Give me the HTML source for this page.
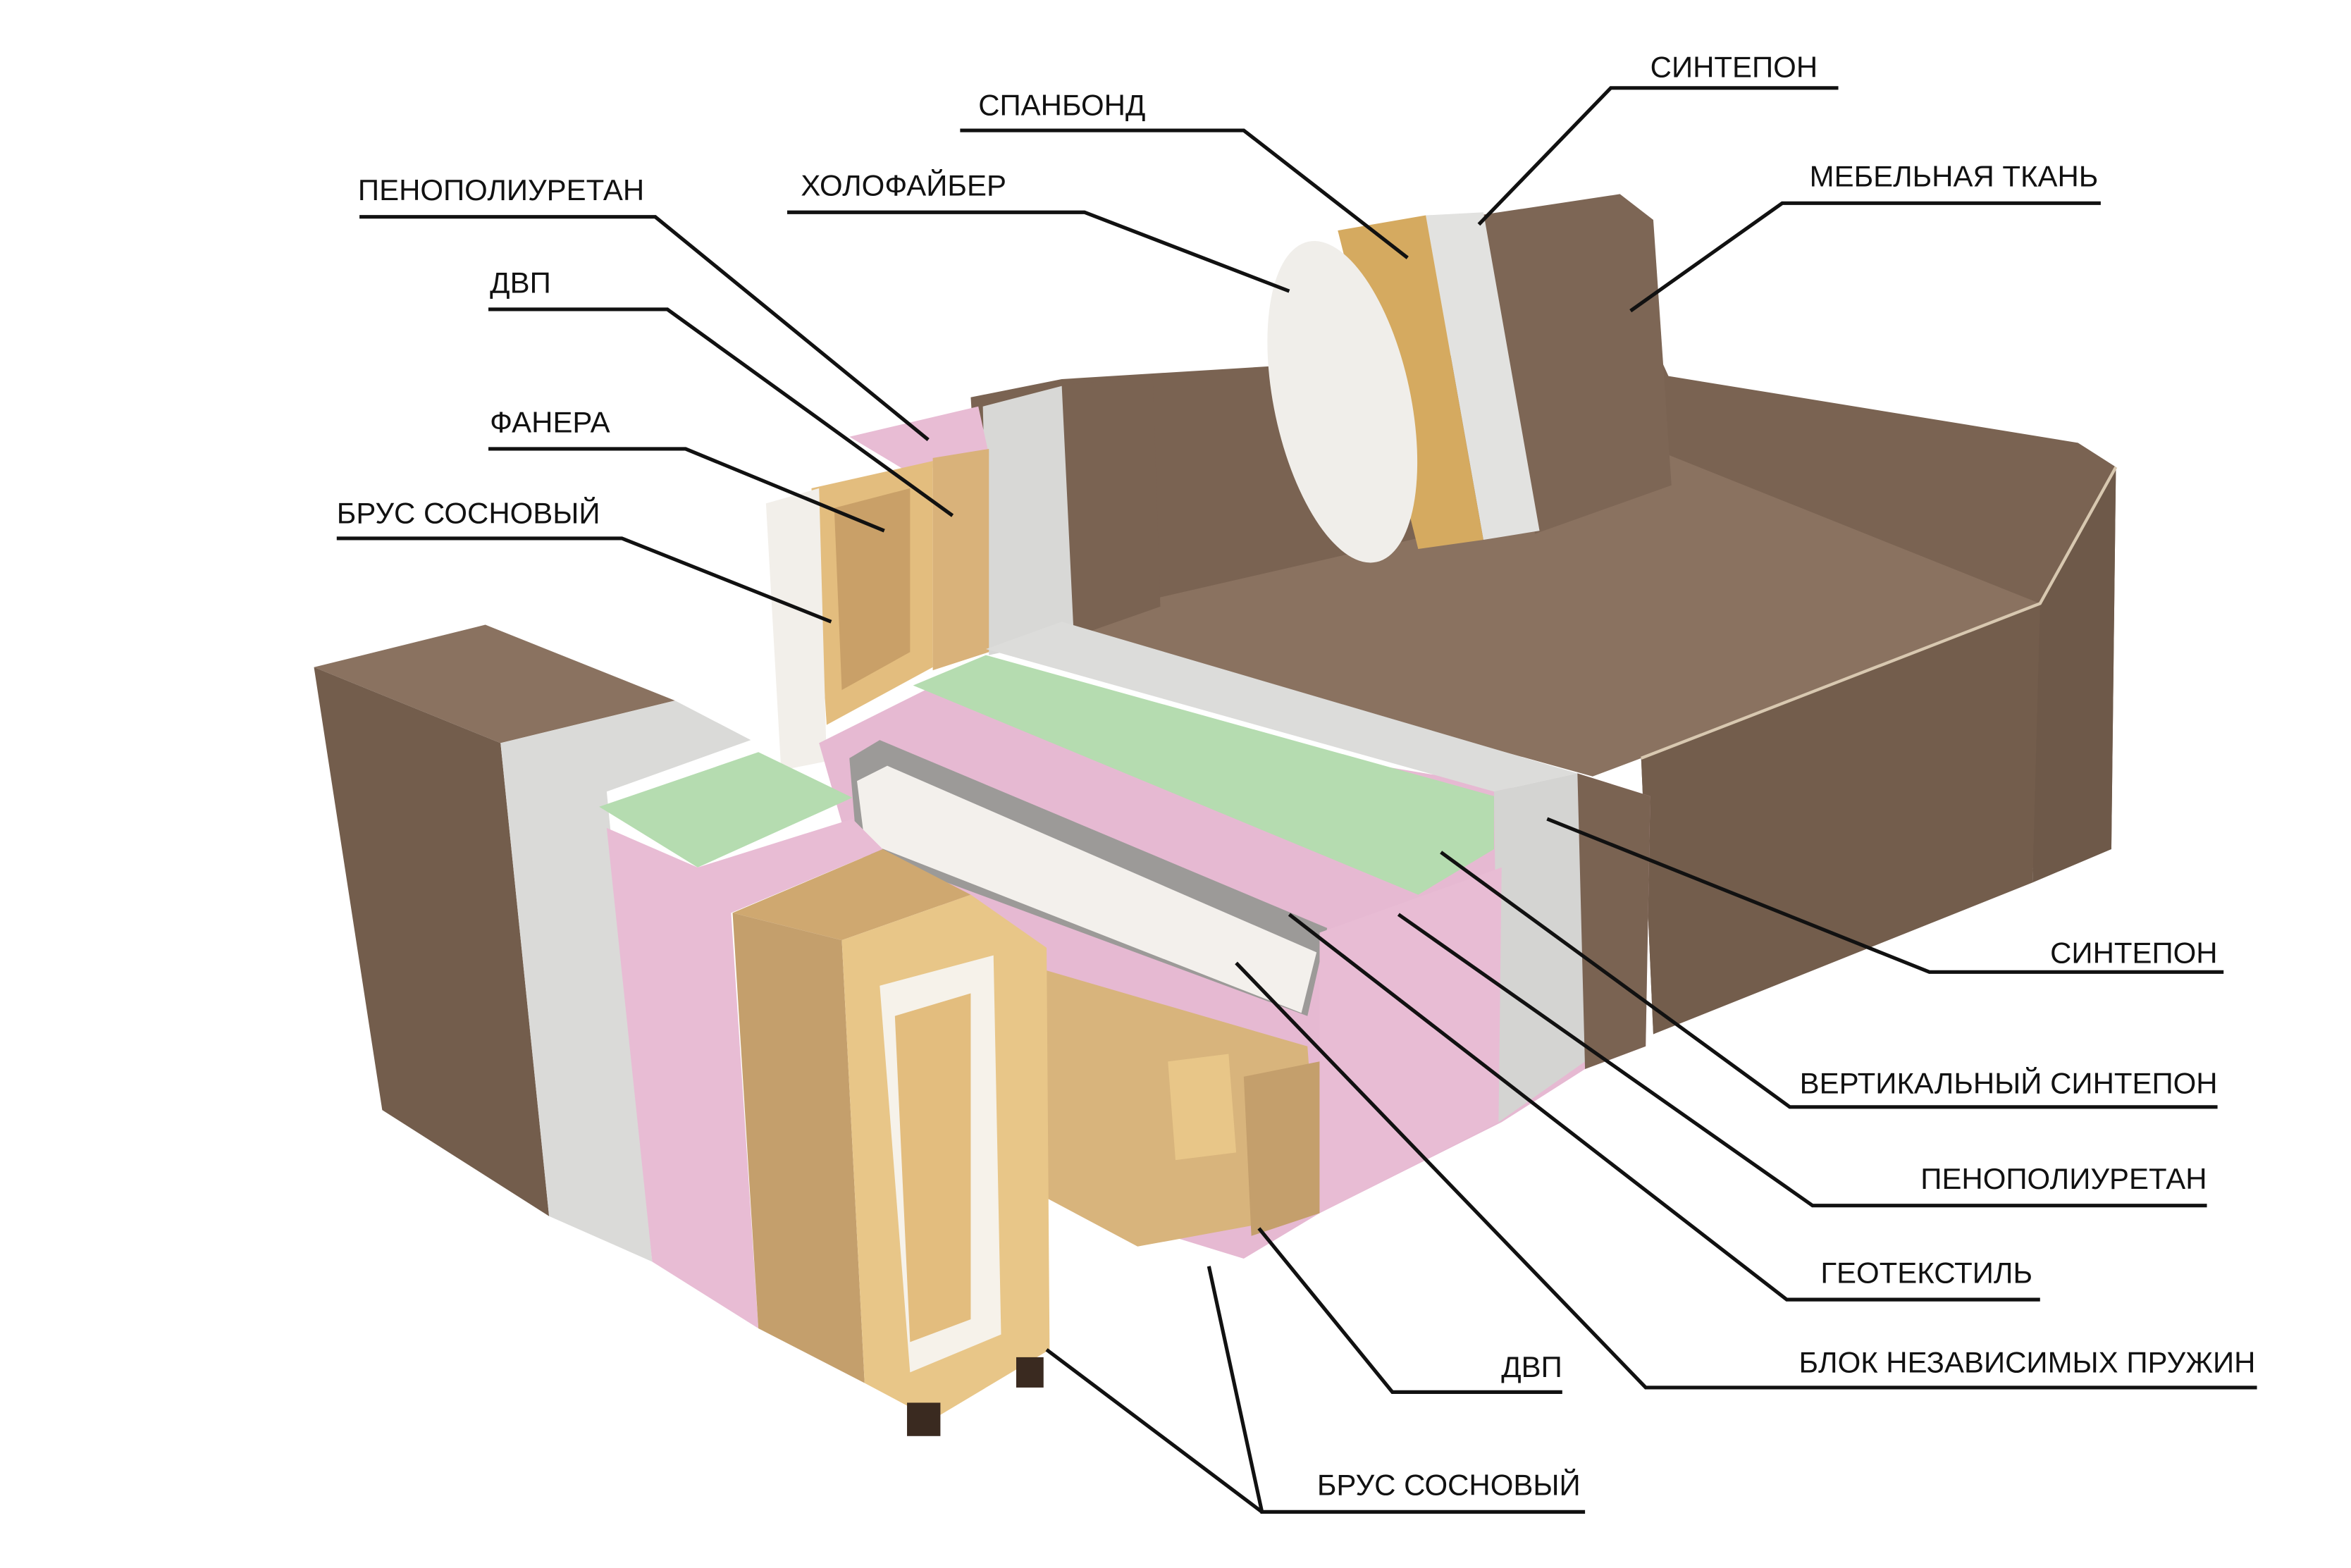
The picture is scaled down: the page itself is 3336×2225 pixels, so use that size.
<!DOCTYPE html>
<html><head><meta charset="utf-8"><style>
html,body{margin:0;padding:0;background:#fff;}
svg{display:block;}
text{font-family:"Liberation Sans Narrow","Liberation Sans",sans-serif;font-size:19.5px;fill:#111;}
</style></head><body>
<svg width="3336" height="2225" viewBox="0 0 1550 1034" preserveAspectRatio="none" xmlns="http://www.w3.org/2000/svg">
<rect width="1550" height="1034" fill="#fff"/>
<!-- main body -->
<polygon points="640,262 700,250 1090,226 1100,248 1370,292 1395,308 1392,560 1300,582 1090,682 1082,500 1000,470 760,400 650,420" fill="#7a6352"/>
<polygon points="700,415 760,395 1000,340 1100,300 1345,398 1082,500 1050,512" fill="#8a7260"/>
<polygon points="1082,500 1345,398 1340,582 1090,682" fill="#735d4c"/>
<polygon points="1345,398 1395,308 1392,560 1340,582" fill="#6e5949"/>
<polyline points="1082,500 1345,398 1395,308" fill="none" stroke="#d8c8b0" stroke-width="2"/>
<!-- back cushion -->
<polygon points="975,142 1068,128 1090,145 1102,320 1012,352" fill="#7d6655"/>
<polygon points="940,142 978,140 1015,350 978,356" fill="#e2e2e0"/>
<polygon points="882,152 940,142 978,356 935,362" fill="#d5aa60"/>
<ellipse cx="885" cy="265" rx="45" ry="108" transform="rotate(-12 885 265)" fill="#f0eeea"/>
<!-- back section cut -->
<polygon points="648,268 702,254 708,420 652,432" fill="#d8d8d6"/>
<polygon points="700,254 760,248 765,400 708,420" fill="#7a6352"/>
<polygon points="560,288 645,268 652,300 600,312" fill="#e8bcd4"/>
<polygon points="615,302 652,296 652,430 615,442" fill="#d9b27a"/>
<polygon points="535,322 615,304 615,440 545,478" fill="#e3bd7e"/>
<polygon points="550,335 600,322 600,430 555,455" fill="#c9a068"/>
<polygon points="505,332 540,322 545,502 515,508" fill="#f2efea"/>
<!-- seat cross-section -->
<polygon points="540,490 610,455 1000,520 1040,510 1088,525 1085,690 1045,705 990,740 870,800 820,830 690,790 690,640 560,560" fill="#e6b9d2"/>
<polygon points="650,428 700,410 1040,510 985,522" fill="#dcdcda"/>
<polygon points="602,452 650,432 985,525 985,560 935,590" fill="#b5dcb0"/>
<polygon points="985,522 1040,510 1045,700 988,740" fill="#d4d4d2"/>
<polygon points="1040,510 1088,525 1085,690 1045,705" fill="#7a6352"/>
<polygon points="560,500 580,488 875,612 862,670 565,560" fill="#9c9a98"/>
<polygon points="565,515 585,505 868,628 858,668 570,555" fill="#f3f0ec"/>
<polygon points="690,640 862,690 870,800 750,822 690,790" fill="#d8b47c"/>
<polygon points="770,700 810,695 815,760 775,765" fill="#e8c688"/>
<polygon points="820,710 870,700 870,800 825,815" fill="#c49f6c"/>
<polygon points="870,615 990,572 988,740 870,800" fill="#e8bcd4"/>
<!-- left armrest -->
<polygon points="207,440 320,412 445,462 330,490" fill="#8a7260"/>
<polygon points="207,440 330,490 362,802 252,732" fill="#735d4c"/>
<polygon points="330,490 445,462 495,488 400,522 430,832 362,802" fill="#dadad8"/>
<polygon points="395,532 500,496 562,526 460,572" fill="#b5dcb0"/>
<polygon points="400,546 460,572 562,540 582,560 482,602 500,876 430,832" fill="#e8bcd4"/>
<polygon points="483,602 582,560 640,590 555,620" fill="#cfa870"/>
<polygon points="483,602 555,620 570,912 500,876" fill="#c49f6c"/>
<polygon points="555,620 640,590 690,625 692,890 615,936 570,912" fill="#e8c688"/>
<polygon points="580,650 655,630 660,880 600,905" fill="#f6f2ea"/>
<polygon points="590,670 640,655 640,870 600,885" fill="#e3bd7e"/>
<rect x="598" y="925" width="22" height="22" fill="#3a2a20"/>
<rect x="670" y="895" width="18" height="20" fill="#3a2a20"/>
<!-- leader lines -->
<g stroke="#111" stroke-width="2.4" fill="none">
<polyline points="237,143 432,143 612,290"/>
<polyline points="322,204 440,204 628,340"/>
<polyline points="322,296 452,296 583,350"/>
<polyline points="222,355 410,355 548,410"/>
<polyline points="519,140 715,140 850,192"/>
<polyline points="633,86 820,86 928,170"/>
<polyline points="1212,58 1062,58 975,148"/>
<polyline points="1385,134 1175,134 1075,205"/>
<polyline points="1466,641 1272,641 1020,540"/>
<polyline points="1462,730 1180,730 950,562"/>
<polyline points="1455,795 1195,795 922,603"/>
<polyline points="1345,857 1178,857 850,603"/>
<polyline points="1488,915 1085,915 815,635"/>
<polyline points="1030,918 918,918 830,810"/>
<polyline points="1045,997 832,997 797,835"/>
<polyline points="832,997 690,890"/>
</g>
<text x="236" y="132">ПЕНОПОЛИУРЕТАН</text>
<text x="323" y="193">ДВП</text>
<text x="323" y="285">ФАНЕРА</text>
<text x="222" y="345">БРУС СОСНОВЫЙ</text>
<text x="528" y="129">ХОЛОФАЙБЕР</text>
<text x="645" y="76">СПАНБОНД</text>
<text x="1088" y="51">СИНТЕПОН</text>
<text x="1193" y="123">МЕБЕЛЬНАЯ ТКАНЬ</text>
<g text-anchor="end">
<text x="1462" y="635">СИНТЕПОН</text>
<text x="1462" y="721">ВЕРТИКАЛЬНЫЙ СИНТЕПОН</text>
<text x="1455" y="784">ПЕНОПОЛИУРЕТАН</text>
<text x="1340" y="846">ГЕОТЕКСТИЛЬ</text>
<text x="1487" y="905">БЛОК НЕЗАВИСИМЫХ ПРУЖИН</text>
<text x="1030" y="908">ДВП</text>
<text x="1042" y="986">БРУС СОСНОВЫЙ</text>
</g>
</svg>
</body></html>
